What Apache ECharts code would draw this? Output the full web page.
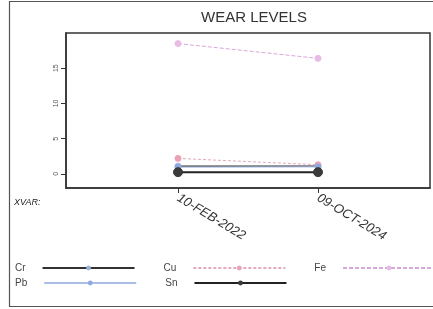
<!DOCTYPE html>
<html><head><meta charset="utf-8">
<script src="https://cdn.jsdelivr.net/npm/echarts@6/dist/echarts.min.js"></script>
<style>html,body{margin:0;padding:0;background:#fff}#c{width:433px;height:309px}</style>
</head><body><div id="c"></div>
<script>
const categories = ['10-FEB-2022', '09-OCT-2024'];
const yTicks = [0, 5, 10, 15];
const seriesNames = ['Cr', 'Cu', 'Fe', 'Pb', 'Sn'];
const crValues = [1.1, 1.1];
const cuValues = [2.2, 1.3];
const feValues = [18.5, 16.4];
const pbValues = [0.95, 1.0];
const snValues = [0.25, 0.25];

const valuesByName = {Cr: crValues, Cu: cuValues, Fe: feValues, Pb: pbValues, Sn: snValues};
const styles = {
  Cr: {line: '#333333', width: 1.2, type: 'solid', mark: '#9fb4d8', size: 6},
  Cu: {line: '#e4a9bf', width: 1, type: [3, 2], mark: '#eaa3b4', size: 6},
  Fe: {line: '#d9a8da', width: 1, type: [4, 2], mark: '#e8bce4', size: 6},
  Pb: {line: '#a9bde6', width: 1, type: 'solid', mark: '#8fa9e0', size: 6},
  Sn: {line: '#222222', width: 2, type: 'solid', mark: '#3a3a3a', size: 9}
};

const chart = echarts.init(document.getElementById('c'), null, {renderer: 'canvas'});
const series = seriesNames.map(n => ({
  name: n, type: 'line',
  data: valuesByName[n].map((v, i) => [i, v]),
  symbol: 'circle', symbolSize: styles[n].size,
  lineStyle: {color: styles[n].line, width: styles[n].width, type: styles[n].type},
  itemStyle: {color: styles[n].mark, borderColor: styles[n].mark},
  z: n === 'Sn' ? 3 : 2
}));
const legendCommon = {
  left: 15, width: 460, padding: 0, orient: 'horizontal', align: 'right',
  itemWidth: 92, itemHeight: 6, itemGap: 28,
  textStyle: {fontFamily: 'Liberation Sans', fontSize: 10, color: '#444', padding: [0, 12, 0, 0]}
};
chart.setOption({
  animation: false,
  backgroundColor: '#fff',
  title: {text: 'WEAR LEVELS', left: 249, top: 5, textAlign: 'center',
    textStyle: {fontFamily: 'Liberation Sans', fontSize: 15, fontWeight: 'normal', color: '#333'}},
  grid: {left: 66, top: 33, right: 3, bottom: 121, show: true, borderColor: '#333', borderWidth: 1.5},
  xAxis: {
    type: 'value', min: -0.8, max: 1.8,
    axisLine: {onZero: false, lineStyle: {color: '#333', width: 1.5}},
    axisTick: {show: true, length: 5, lineStyle: {color: '#333'}, customValues: [0, 1]},
    axisLabel: {customValues: [0, 1], rotate: -31, margin: 9,
      formatter: v => categories[Math.round(v)] || '',
      fontFamily: 'Liberation Sans', fontStyle: 'italic', fontSize: 13, color: '#333'},
    splitLine: {show: false}
  },
  yAxis: {
    type: 'value', min: -2, max: 20,
    axisLine: {show: true, onZero: false, lineStyle: {color: '#333', width: 1.5}},
    axisTick: {show: true, length: 5, lineStyle: {color: '#333'}, customValues: yTicks},
    axisLabel: {customValues: yTicks, rotate: 90, fontSize: 7, color: '#555', margin: 6,
      fontFamily: 'Liberation Sans'},
    splitLine: {show: false}
  },
  legend: [
    Object.assign({}, legendCommon, {top: 263, data: ['Cr', 'Cu', 'Fe']}),
    Object.assign({}, legendCommon, {top: 278, data: ['Pb', 'Sn']})
  ],
  graphic: [
    {type: 'rect', shape: {x: 9.5, y: 1.5, width: 430, height: 305}, style: {fill: null, stroke: '#555', lineWidth: 1.2}, silent: true},
    {type: 'text', left: 14, top: 198, style: {text: 'XVAR:', font: 'italic 9px "Liberation Sans"', fill: '#222'}}
  ],
  series: series
});
</script></body></html>
